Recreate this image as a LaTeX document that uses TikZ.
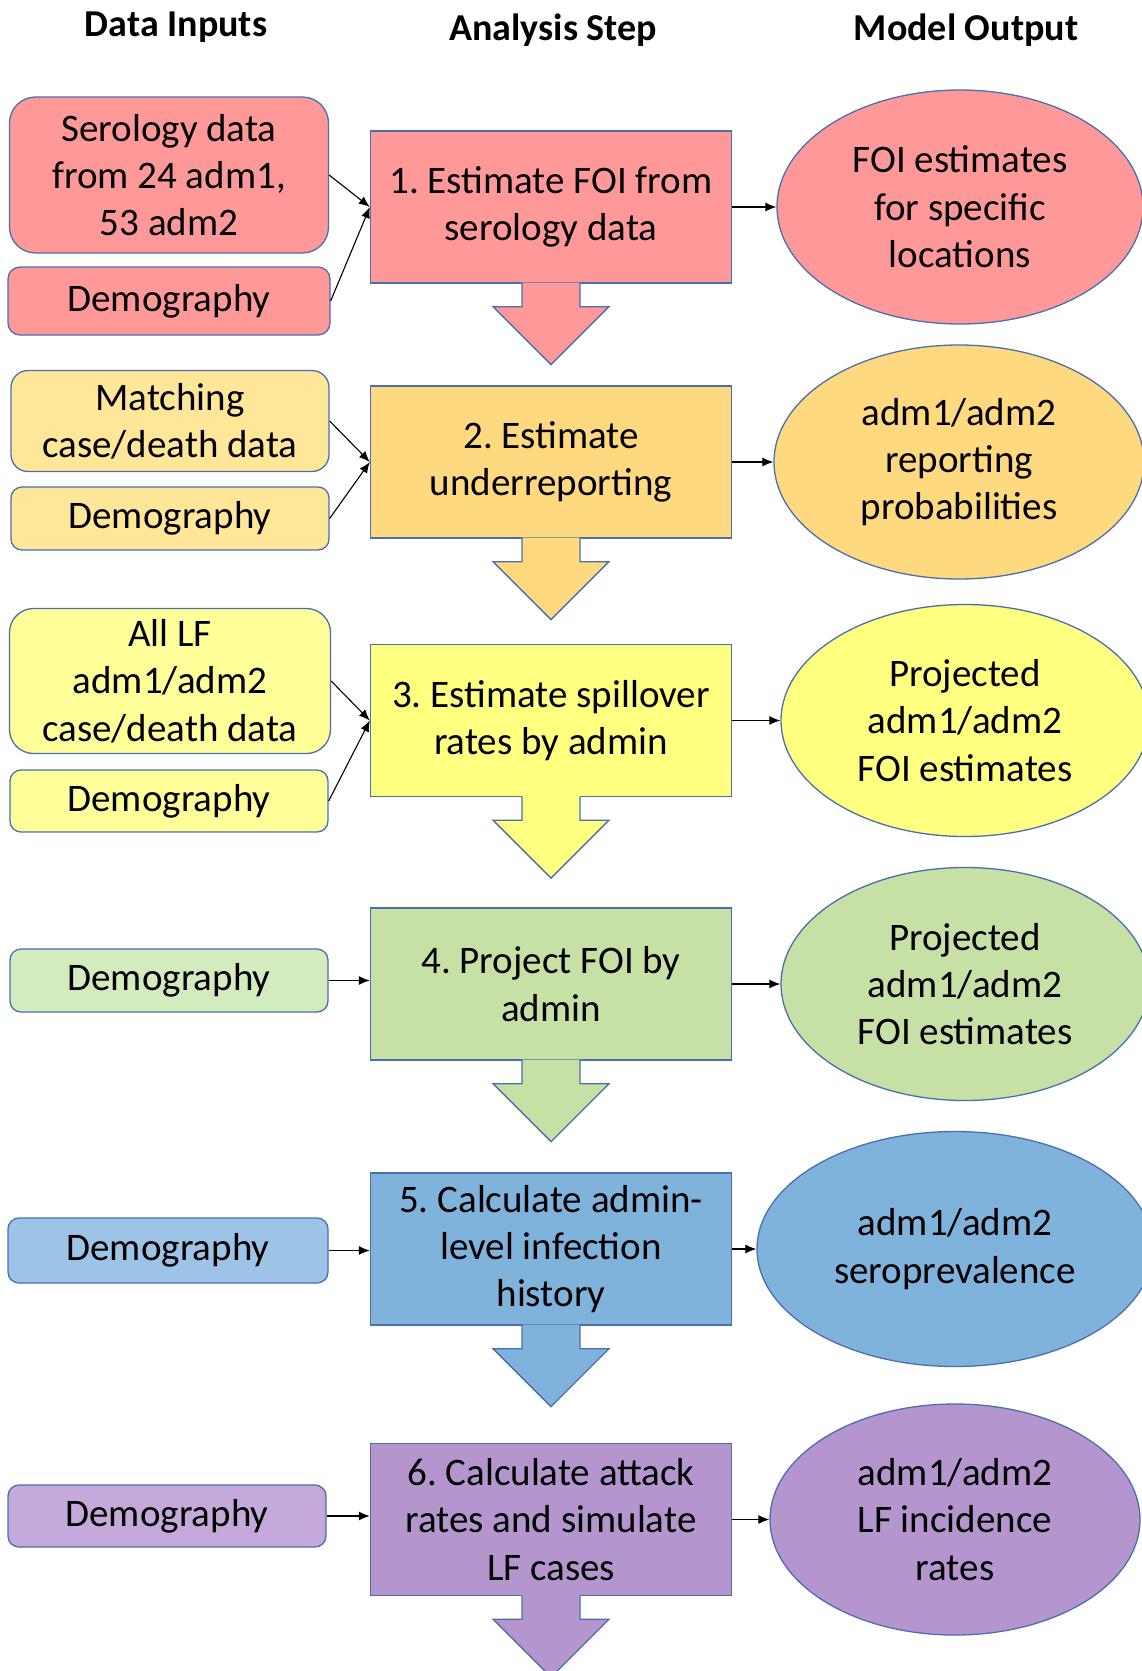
\documentclass[tikz,border=0pt]{standalone}
\usepackage{fontspec}
\setmainfont{Carlito}
\frenchspacing
\usetikzlibrary{arrows.meta,shapes.geometric,calc}
\definecolor{bordc}{HTML}{4A6FAE}
\definecolor{rA}{HTML}{FF9999}
\definecolor{rB}{HTML}{FF9999}
\definecolor{oA}{HTML}{FFE699}
\definecolor{oB}{HTML}{FFD97F}
\definecolor{yA}{HTML}{FFFF99}
\definecolor{yB}{HTML}{FFFF80}
\definecolor{gA}{HTML}{D4EABF}
\definecolor{gB}{HTML}{C6E0A5}
\definecolor{bA}{HTML}{9DC3E6}
\definecolor{bB}{HTML}{7FB3DC}
\definecolor{pA}{HTML}{C5A9DA}
\definecolor{pB}{HTML}{B495CE}
\newcommand\blockarr[2]{%
  \begin{scope}[shift={(#1.south)}]
    \fill[#2] (-29,-1) -- (-29,23) -- (-58,23) -- (0,81) -- (58,23) -- (29,23) -- (29,-1) -- cycle;
    \draw[bordc, line width=1.3pt, line join=miter] (-29,-0.5) -- (-29,23) -- (-58,23) -- (0,81) -- (58,23) -- (29,23) -- (29,-0.5);
  \end{scope}}
\begin{document}
\begin{tikzpicture}[x=1pt,y=-1pt,
  txt/.style={font=\fontsize{39}{47.4}\selectfont, align=center, inner sep=0pt},
  inbox/.style={txt, draw=bordc, line width=1.3pt},
  stepbox/.style={txt, draw=bordc, line width=1.3pt, minimum width=361, minimum height=152},
  outell/.style={txt, ellipse, draw=bordc, line width=1.3pt},
  hdr/.style={font=\fontsize{38}{46}\selectfont\bfseries, inner sep=0pt},
  conn/.style={-{Latex[length=11pt,width=9pt]}, line width=1.1pt, black}]
\useasboundingbox (0,0) rectangle (1142,1671);

% headers
\node[hdr] (h1) at (176,27) {Data Inputs};
\node[hdr] (h2) at (553,30) {Analysis Step};
\node[hdr] (h3) at (966,30) {Model Output};

% row 1
\node[inbox, fill=rA, rounded corners=26pt, minimum width=319, minimum height=156] (ser) at (169,175) {Serology data\\from 24 adm1,\\53 adm2};
\node[inbox, fill=rA, rounded corners=12pt, minimum width=322, minimum height=68] (d1) at (169,301) {Demography};
\node[stepbox, fill=rB] (s1) at (551,207) {1. Estimate FOI from\\serology data};
\node[outell, fill=rB, minimum width=366, minimum height=234] (e1) at (960,207) {FOI estimates\\for specific\\locations};

% row 2
\node[inbox, fill=oA, rounded corners=17pt, minimum width=318, minimum height=101] (mat) at (170,421) {Matching\\case/death data};
\node[inbox, fill=oA, rounded corners=11pt, minimum width=318, minimum height=63] (d2) at (170,518.5) {Demography};
\node[stepbox, fill=oB] (s2) at (551,462) {2. Estimate\\underreporting};
\node[outell, fill=oB, minimum width=370, minimum height=234] (e2) at (959,462) {adm1/adm2\\reporting\\probabilities};

% row 3
\node[inbox, fill=yA, rounded corners=24pt, minimum width=321, minimum height=145] (alf) at (170,681) {All LF\\adm1/adm2\\case/death data};
\node[inbox, fill=yA, rounded corners=11pt, minimum width=318, minimum height=62] (d3) at (169,801) {Demography};
\node[stepbox, fill=yB] (s3) at (551,720.5) {3. Estimate spillover\\rates by admin};
\node[outell, fill=yB, minimum width=368, minimum height=232] (e3) at (965,720.5) {Projected\\adm1/adm2\\FOI estimates};

% row 4
\node[inbox, fill=gA, rounded corners=11pt, minimum width=318, minimum height=63] (d4) at (169,980.5) {Demography};
\node[stepbox, fill=gB] (s4) at (551,984) {4. Project FOI by\\admin};
\node[outell, fill=gB, minimum width=368, minimum height=233] (e4) at (965,984) {Projected\\adm1/adm2\\FOI estimates};

% row 5
\node[inbox, fill=bA, rounded corners=11pt, minimum width=320, minimum height=65] (d5) at (168,1250.5) {Demography};
\node[stepbox, fill=bB] (s5) at (551,1249) {5. Calculate admin-\\level infection\\history};
\node[outell, fill=bB, minimum width=396, minimum height=235] (e5) at (955,1249) {adm1/adm2\\seroprevalence};

% row 6
\node[inbox, fill=pA, rounded corners=11pt, minimum width=318, minimum height=62] (d6) at (167,1516) {Demography};
\node[stepbox, fill=pB] (s6) at (551,1519.5) {6. Calculate attack\\rates and simulate\\LF cases};
\node[outell, fill=pB, minimum width=370, minimum height=231] (e6) at (955,1519.5) {adm1/adm2\\LF incidence\\rates};

% block arrows
\blockarr{s1}{rB}
\blockarr{s2}{oB}
\blockarr{s3}{yB}
\blockarr{s4}{gB}
\blockarr{s5}{bB}
\blockarr{s6}{pB}

% connectors
\draw[conn] (ser.east) -- (s1.west);
\draw[conn] (d1.east) -- (s1.west);
\draw[conn] (s1.east) -- (e1.west);
\draw[conn] (mat.east) -- (s2.west);
\draw[conn] (d2.east) -- (s2.west);
\draw[conn] (s2.east) -- (e2.west);
\draw[conn] (alf.east) -- (s3.west);
\draw[conn] (d3.east) -- (s3.west);
\draw[conn] (s3.east) -- (e3.west);
\draw[conn] (d4.east) -- (d4.east -| s4.west);
\draw[conn] (s4.east) -- (e4.west);
\draw[conn] (d5.east) -- (d5.east -| s5.west);
\draw[conn] (s5.east) -- (e5.west);
\draw[conn] (d6.east) -- (d6.east -| s6.west);
\draw[conn] (s6.east) -- (e6.west);
\end{tikzpicture}
\end{document}
